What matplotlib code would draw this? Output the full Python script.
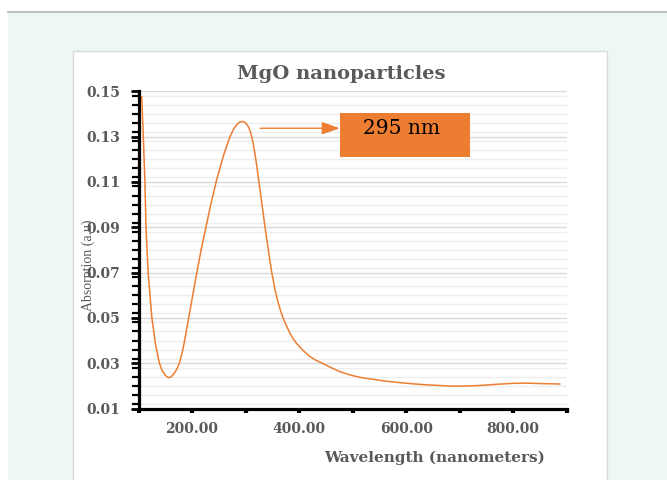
import matplotlib
matplotlib.use("Agg")
import matplotlib.pyplot as plt
from matplotlib.patches import Rectangle
from matplotlib.lines import Line2D
from matplotlib.ticker import MultipleLocator, FixedLocator, FixedFormatter

# ---- data ----
wavelength = [106, 109, 112, 114, 118, 125, 132, 139, 144, 149, 153, 157, 161, 165, 169,
              173, 177, 181, 185, 189, 193, 201, 209, 217, 226, 235, 245, 258, 265, 271,
              277, 283, 289, 295, 300, 305, 309, 313, 317, 321, 325, 329, 333, 337, 341,
              345, 349, 355, 360, 365, 370, 377, 383, 389, 395, 407, 420, 432, 445, 460,
              476, 495, 515, 540, 565, 589, 612, 635, 658, 682, 710, 740, 770, 800, 825,
              850, 870, 887]
absorption = [0.1475, 0.130, 0.110, 0.090, 0.070, 0.050, 0.038, 0.030, 0.0268, 0.0250,
              0.0240, 0.0236, 0.0240, 0.0250, 0.0263, 0.0281, 0.0305, 0.0340, 0.0385,
              0.0437, 0.0490, 0.0595, 0.070, 0.080, 0.090, 0.100, 0.110, 0.121, 0.126,
              0.130, 0.1330, 0.1352, 0.1364, 0.1367, 0.1361, 0.1345, 0.1322, 0.1285,
              0.1232, 0.1170, 0.1100, 0.1030, 0.0960, 0.0890, 0.0825, 0.0760, 0.0700,
              0.0625, 0.0575, 0.0535, 0.0500, 0.0462, 0.0432, 0.0408, 0.0388, 0.0357,
              0.0330, 0.0312, 0.0298, 0.0280, 0.0263, 0.0248, 0.0237, 0.0228, 0.0220,
              0.0214, 0.0209, 0.0205, 0.0202, 0.0199, 0.0199, 0.0202, 0.0207, 0.0211,
              0.0212, 0.0210, 0.0209, 0.0208]

title = "MgO nanoparticles"
xlabel = "Wavelength (nanometers)"
ylabel = "Absorption (a.u)"
peak_label = "295 nm"
x_major = [100, 200, 300, 400, 500, 600, 700, 800, 900]
x_labels = ["", "200.00", "", "400.00", "", "600.00", "", "800.00", ""]
y_major = [0.01, 0.03, 0.05, 0.07, 0.09, 0.11, 0.13, 0.15]
y_labels = ["0.01", "0.03", "0.05", "0.07", "0.09", "0.11", "0.13", "0.15"]

ORANGE = "#ED7D31"
GRAY_TXT = "#595959"
W, H = 667, 480

fig = plt.figure(figsize=(W / 100, H / 100), dpi=100)
fig.patch.set_facecolor("white")

def fx(px):
    return px / W

def fy(py):
    return 1 - py / H

# page background (teal panel) and white card
fig.patches.append(Rectangle((fx(8), 0), 1 - fx(8), fy(12.5), transform=fig.transFigure,
                             facecolor="#eef7f5", edgecolor="none", zorder=0))
fig.lines.append(Line2D([fx(8), 1], [fy(12), fy(12)], transform=fig.transFigure,
                        color="#b4b4b4", lw=1.2, zorder=1))
fig.patches.append(Rectangle((fx(72.5), -0.01), fx(607) - fx(72.5), fy(50.5) + 0.01,
                             transform=fig.transFigure, facecolor="white",
                             edgecolor="#d9d9d9", lw=1.0, zorder=1))

ax = fig.add_axes([fx(138.5), fy(408.5), fx(566.7) - fx(138.5), fy(91.3) - fy(408.5)])
ax.set_zorder(2)
ax.patch.set_alpha(0)

ax.plot(wavelength, absorption, color=ORANGE, lw=1.1, zorder=3, clip_on=False,
        solid_joinstyle="round")

ax.set_xlim(100, 900)
ax.set_ylim(0.01, 0.15)

ax.xaxis.set_major_locator(FixedLocator(x_major))
ax.xaxis.set_major_formatter(FixedFormatter(x_labels))
ax.yaxis.set_major_locator(FixedLocator(y_major))
ax.yaxis.set_major_formatter(FixedFormatter(y_labels))
ax.yaxis.set_minor_locator(MultipleLocator(0.004))

ax.grid(axis="y", which="major", color="#d9d9d9", lw=1.0, zorder=0)
ax.grid(axis="y", which="minor", color="#eeeeee", lw=1.0, zorder=0)
ax.set_axisbelow(True)

for s in ["top", "right"]:
    ax.spines[s].set_visible(False)
for s in ["left", "bottom"]:
    ax.spines[s].set_linewidth(2.3)
    ax.spines[s].set_color("black")

ax.tick_params(axis="y", which="major", direction="out", length=6, width=2.0,
               color="black", pad=7, labelcolor=GRAY_TXT)
ax.tick_params(axis="y", which="minor", direction="out", length=5, width=1.6, color="black")
ax.tick_params(axis="x", which="major", direction="out", length=3, width=3.0,
               color="black", pad=7, labelcolor=GRAY_TXT)
for lab in ax.get_xticklabels() + ax.get_yticklabels():
    lab.set_fontfamily("DejaVu Serif")
    lab.set_fontweight("bold")
    lab.set_fontsize(10)

# title, axis labels
fig.text(fx(341), fy(74), title, ha="center", va="center", family="DejaVu Serif",
         weight="bold", size=14, color=GRAY_TXT)
fig.text(fx(435), fy(458), xlabel, ha="center", va="center", family="DejaVu Serif",
         weight="bold", size=11, color=GRAY_TXT)
fig.text(fx(88), fy(265), ylabel, ha="center", va="center", rotation=90,
         family="Liberation Serif", size=10, color=GRAY_TXT, zorder=5)

# peak annotation: arrow + orange box
ax.annotate("", xy=(476, 0.1337), xytext=(327, 0.1337),
            arrowprops=dict(arrowstyle="-|>,head_length=1.0,head_width=0.35",
                            mutation_scale=11, color=ORANGE, lw=1.0,
                            shrinkA=0, shrinkB=0), zorder=4, annotation_clip=False)
ax.add_patch(Rectangle((476, 0.1212), 243, 0.0193, facecolor=ORANGE,
                       edgecolor="none", zorder=4, clip_on=False))
ax.text(591, 0.1335, peak_label, ha="center", va="center", family="DejaVu Serif",
        size=14.5, color="black", zorder=5)

fig.savefig("out.png", dpi=100)
